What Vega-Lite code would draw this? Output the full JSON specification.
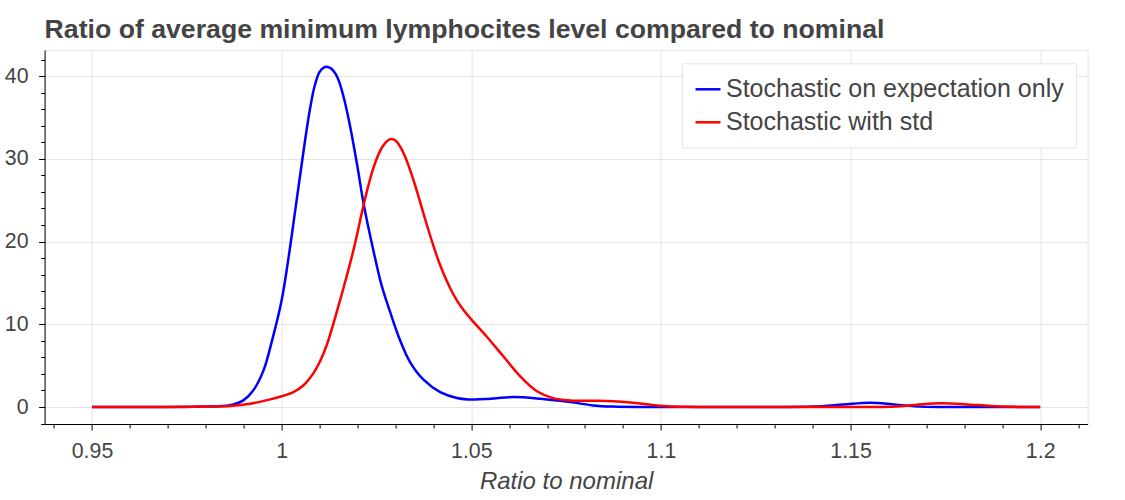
{
  "$schema": "https://vega.github.io/schema/vega-lite/v6.json",
  "width": 1043,
  "height": 374,
  "autosize": {"type": "none"},
  "padding": {"left": 44.6, "top": 50, "right": 37.4, "bottom": 76},
  "background": "white",
  "config": {
    "font": "Liberation Sans",
    "view": {"stroke": "#e5e5e5", "strokeWidth": 1}
  },
  "title": {
    "text": "Ratio of average minimum lymphocites level compared to nominal",
    "anchor": "start",
    "frame": "group",
    "font": "Liberation Sans",
    "fontSize": 26.67,
    "fontWeight": "bold",
    "color": "#444444",
    "offset": 6
  },
  "datasets": {
    "curves": [
      {"x": 0.95, "y": 0, "series": "Stochastic on expectation only"},
      {"x": 0.96, "y": 0, "series": "Stochastic on expectation only"},
      {"x": 0.97, "y": 0, "series": "Stochastic on expectation only"},
      {"x": 0.975, "y": 0.01, "series": "Stochastic on expectation only"},
      {"x": 0.98, "y": 0.05, "series": "Stochastic on expectation only"},
      {"x": 0.9835, "y": 0.1, "series": "Stochastic on expectation only"},
      {"x": 0.9864, "y": 0.22, "series": "Stochastic on expectation only"},
      {"x": 0.9899, "y": 0.8, "series": "Stochastic on expectation only"},
      {"x": 0.9925, "y": 2.0, "series": "Stochastic on expectation only"},
      {"x": 0.9952, "y": 4.4, "series": "Stochastic on expectation only"},
      {"x": 0.9974, "y": 7.9, "series": "Stochastic on expectation only"},
      {"x": 1.0, "y": 12.9, "series": "Stochastic on expectation only"},
      {"x": 1.0018, "y": 18.0, "series": "Stochastic on expectation only"},
      {"x": 1.0035, "y": 23.5, "series": "Stochastic on expectation only"},
      {"x": 1.0049, "y": 28.1, "series": "Stochastic on expectation only"},
      {"x": 1.0062, "y": 32.3, "series": "Stochastic on expectation only"},
      {"x": 1.0075, "y": 36.1, "series": "Stochastic on expectation only"},
      {"x": 1.0087, "y": 38.8, "series": "Stochastic on expectation only"},
      {"x": 1.01, "y": 40.5, "series": "Stochastic on expectation only"},
      {"x": 1.0112, "y": 41.05, "series": "Stochastic on expectation only"},
      {"x": 1.0121, "y": 41.1, "series": "Stochastic on expectation only"},
      {"x": 1.0132, "y": 40.85, "series": "Stochastic on expectation only"},
      {"x": 1.0143, "y": 40.2, "series": "Stochastic on expectation only"},
      {"x": 1.0154, "y": 39.0, "series": "Stochastic on expectation only"},
      {"x": 1.0167, "y": 36.8, "series": "Stochastic on expectation only"},
      {"x": 1.0181, "y": 33.8, "series": "Stochastic on expectation only"},
      {"x": 1.02, "y": 29.0, "series": "Stochastic on expectation only"},
      {"x": 1.0216, "y": 24.6, "series": "Stochastic on expectation only"},
      {"x": 1.0242, "y": 18.9, "series": "Stochastic on expectation only"},
      {"x": 1.0263, "y": 14.8, "series": "Stochastic on expectation only"},
      {"x": 1.0286, "y": 11.5, "series": "Stochastic on expectation only"},
      {"x": 1.0312, "y": 8.1, "series": "Stochastic on expectation only"},
      {"x": 1.0339, "y": 5.4, "series": "Stochastic on expectation only"},
      {"x": 1.0374, "y": 3.3, "series": "Stochastic on expectation only"},
      {"x": 1.0418, "y": 1.8, "series": "Stochastic on expectation only"},
      {"x": 1.0462, "y": 1.1, "series": "Stochastic on expectation only"},
      {"x": 1.0506, "y": 0.9, "series": "Stochastic on expectation only"},
      {"x": 1.055, "y": 1.0, "series": "Stochastic on expectation only"},
      {"x": 1.0612, "y": 1.2, "series": "Stochastic on expectation only"},
      {"x": 1.0682, "y": 1.0, "series": "Stochastic on expectation only"},
      {"x": 1.0761, "y": 0.6, "series": "Stochastic on expectation only"},
      {"x": 1.082, "y": 0.2, "series": "Stochastic on expectation only"},
      {"x": 1.0875, "y": 0.05, "series": "Stochastic on expectation only"},
      {"x": 1.095, "y": 0, "series": "Stochastic on expectation only"},
      {"x": 1.11, "y": 0, "series": "Stochastic on expectation only"},
      {"x": 1.13, "y": 0, "series": "Stochastic on expectation only"},
      {"x": 1.14, "y": 0.05, "series": "Stochastic on expectation only"},
      {"x": 1.148, "y": 0.3, "series": "Stochastic on expectation only"},
      {"x": 1.155, "y": 0.53, "series": "Stochastic on expectation only"},
      {"x": 1.161, "y": 0.35, "series": "Stochastic on expectation only"},
      {"x": 1.167, "y": 0.08, "series": "Stochastic on expectation only"},
      {"x": 1.175, "y": 0, "series": "Stochastic on expectation only"},
      {"x": 1.19, "y": 0, "series": "Stochastic on expectation only"},
      {"x": 1.2, "y": 0, "series": "Stochastic on expectation only"},
      {"x": 0.95, "y": 0, "series": "Stochastic with std"},
      {"x": 0.96, "y": 0, "series": "Stochastic with std"},
      {"x": 0.97, "y": 0.01, "series": "Stochastic with std"},
      {"x": 0.975, "y": 0.03, "series": "Stochastic with std"},
      {"x": 0.98, "y": 0.06, "series": "Stochastic with std"},
      {"x": 0.9864, "y": 0.14, "series": "Stochastic with std"},
      {"x": 0.9917, "y": 0.4, "series": "Stochastic with std"},
      {"x": 0.997, "y": 0.93, "series": "Stochastic with std"},
      {"x": 1.0, "y": 1.3, "series": "Stochastic with std"},
      {"x": 1.0031, "y": 1.8, "series": "Stochastic with std"},
      {"x": 1.0057, "y": 2.6, "series": "Stochastic with std"},
      {"x": 1.0084, "y": 4.1, "series": "Stochastic with std"},
      {"x": 1.0101, "y": 5.5, "series": "Stochastic with std"},
      {"x": 1.0119, "y": 7.5, "series": "Stochastic with std"},
      {"x": 1.0136, "y": 10.0, "series": "Stochastic with std"},
      {"x": 1.0154, "y": 12.9, "series": "Stochastic with std"},
      {"x": 1.0172, "y": 15.9, "series": "Stochastic with std"},
      {"x": 1.0189, "y": 18.9, "series": "Stochastic with std"},
      {"x": 1.0216, "y": 24.4, "series": "Stochastic with std"},
      {"x": 1.023, "y": 27.0, "series": "Stochastic with std"},
      {"x": 1.0242, "y": 28.9, "series": "Stochastic with std"},
      {"x": 1.0254, "y": 30.4, "series": "Stochastic with std"},
      {"x": 1.0265, "y": 31.4, "series": "Stochastic with std"},
      {"x": 1.0277, "y": 32.1, "series": "Stochastic with std"},
      {"x": 1.0288, "y": 32.4, "series": "Stochastic with std"},
      {"x": 1.03, "y": 32.2, "series": "Stochastic with std"},
      {"x": 1.0312, "y": 31.5, "series": "Stochastic with std"},
      {"x": 1.0325, "y": 30.3, "series": "Stochastic with std"},
      {"x": 1.0339, "y": 28.6, "series": "Stochastic with std"},
      {"x": 1.0352, "y": 26.8, "series": "Stochastic with std"},
      {"x": 1.0365, "y": 24.8, "series": "Stochastic with std"},
      {"x": 1.0383, "y": 22.0, "series": "Stochastic with std"},
      {"x": 1.04, "y": 19.5, "series": "Stochastic with std"},
      {"x": 1.0415, "y": 17.5, "series": "Stochastic with std"},
      {"x": 1.043, "y": 15.8, "series": "Stochastic with std"},
      {"x": 1.0445, "y": 14.3, "series": "Stochastic with std"},
      {"x": 1.0462, "y": 12.9, "series": "Stochastic with std"},
      {"x": 1.048, "y": 11.7, "series": "Stochastic with std"},
      {"x": 1.05, "y": 10.6, "series": "Stochastic with std"},
      {"x": 1.0541, "y": 8.5, "series": "Stochastic with std"},
      {"x": 1.0585, "y": 6.1, "series": "Stochastic with std"},
      {"x": 1.0629, "y": 3.7, "series": "Stochastic with std"},
      {"x": 1.0673, "y": 1.9, "series": "Stochastic with std"},
      {"x": 1.0717, "y": 1.05, "series": "Stochastic with std"},
      {"x": 1.0761, "y": 0.8, "series": "Stochastic with std"},
      {"x": 1.082, "y": 0.76, "series": "Stochastic with std"},
      {"x": 1.0875, "y": 0.7, "series": "Stochastic with std"},
      {"x": 1.092, "y": 0.55, "series": "Stochastic with std"},
      {"x": 1.099, "y": 0.2, "series": "Stochastic with std"},
      {"x": 1.107, "y": 0.02, "series": "Stochastic with std"},
      {"x": 1.12, "y": 0, "series": "Stochastic with std"},
      {"x": 1.15, "y": 0, "series": "Stochastic with std"},
      {"x": 1.16, "y": 0.02, "series": "Stochastic with std"},
      {"x": 1.167, "y": 0.25, "series": "Stochastic with std"},
      {"x": 1.1737, "y": 0.45, "series": "Stochastic with std"},
      {"x": 1.18, "y": 0.35, "series": "Stochastic with std"},
      {"x": 1.187, "y": 0.12, "series": "Stochastic with std"},
      {"x": 1.193, "y": 0.02, "series": "Stochastic with std"},
      {"x": 1.2, "y": 0, "series": "Stochastic with std"}
    ]
  },
  "data": {"name": "curves"},
  "resolve": {"axis": {"x": "independent", "y": "independent"}},
  "layer": [
    {
      "mark": {"type": "line", "opacity": 0, "interpolate": "catmull-rom"},
      "encoding": {
        "x": {
          "field": "x", "type": "quantitative",
          "scale": {"domain": [0.9375, 1.2125], "nice": false, "zero": false},
          "axis": {
            "orient": "bottom", "title": null, "labels": false, "grid": false, "domain": false,
            "ticks": true, "tickSize": 4, "tickColor": "#000000", "tickWidth": 1,
            "values": [0.94, 0.96, 0.97, 0.98, 0.99, 1.01, 1.02, 1.03, 1.04, 1.06, 1.07, 1.08, 1.09, 1.11, 1.12, 1.13, 1.14, 1.16, 1.17, 1.18, 1.19, 1.21]
          }
        },
        "y": {
          "field": "y", "type": "quantitative",
          "scale": {"domain": [-2.05, 43.15], "nice": false, "zero": false},
          "axis": {
            "orient": "left", "title": null, "labels": false, "grid": false, "domain": false,
            "ticks": true, "tickSize": 4, "tickColor": "#000000", "tickWidth": 1,
            "values": [-2, 2, 4, 6, 8, 12, 14, 16, 18, 22, 24, 26, 28, 32, 34, 36, 38, 42]
          }
        },
        "detail": {"field": "series"}
      }
    },
    {
      "mark": {"type": "line", "strokeWidth": 2.5, "interpolate": "catmull-rom"},
      "encoding": {
        "x": {
          "field": "x", "type": "quantitative",
          "scale": {"domain": [0.9375, 1.2125], "nice": false, "zero": false},
          "axis": {
            "orient": "bottom",
            "title": "Ratio to nominal",
            "titleFont": "Liberation Sans", "titleFontSize": 24, "titleFontStyle": "italic", "titleFontWeight": "normal",
            "titleColor": "#444444", "titlePadding": 8,
            "values": [0.95, 1.0, 1.05, 1.1, 1.15, 1.2],
            "format": ".2~f",
            "labelFont": "Liberation Sans", "labelFontSize": 21.33, "labelColor": "#444444", "labelPadding": 10,
            "labelOverlap": false, "labelFlush": false,
            "tickSize": 6, "tickColor": "#000000", "tickWidth": 1,
            "domainColor": "#000000", "domainWidth": 1,
            "grid": true, "gridColor": "#e5e5e5", "gridWidth": 1
          }
        },
        "y": {
          "field": "y", "type": "quantitative",
          "scale": {"domain": [-2.05, 43.15], "nice": false, "zero": false},
          "axis": {
            "orient": "left",
            "title": null,
            "values": [0, 10, 20, 30, 40],
            "labelFont": "Liberation Sans", "labelFontSize": 21.33, "labelColor": "#444444", "labelPadding": 10.5,
            "labelOverlap": false, "labelFlush": false,
            "tickSize": 6, "tickColor": "#000000", "tickWidth": 1,
            "domainColor": "#000000", "domainWidth": 1,
            "grid": true, "gridColor": "#e5e5e5", "gridWidth": 1
          }
        },
        "color": {
          "field": "series", "type": "nominal",
          "scale": {"domain": ["Stochastic on expectation only", "Stochastic with std"], "range": ["#0000ff", "#ff0000"]},
          "legend": {
            "title": null,
            "orient": "none",
            "legendX": 637.4,
            "legendY": 13.3,
            "padding": 12,
            "strokeColor": "#e5e5e5",
            "fillColor": "rgba(255,255,255,0.95)",
            "symbolType": "stroke",
            "symbolSize": 625,
            "symbolStrokeWidth": 2.5,
            "labelFont": "Liberation Sans",
            "labelFontSize": 25,
            "labelColor": "#444444",
            "labelOffset": 4,
            "rowPadding": 6,
            "labelLimit": 0
          }
        }
      }
    }
  ]
}
